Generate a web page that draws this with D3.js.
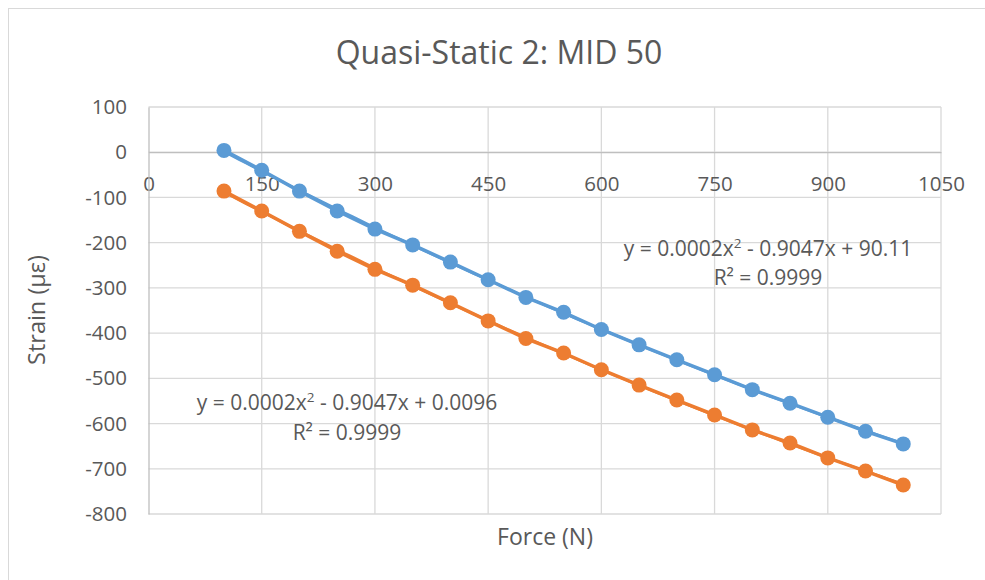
<!DOCTYPE html>
<html>
<head>
<meta charset="utf-8">
<script src="https://cdn.jsdelivr.net/npm/d3@7"></script>
<style>
    body { margin: 0; background: #fff; }
    svg text { font-family: "Open Sans", sans-serif; fill: #595959; }
</style>
</head>
<body>
<div id="chart"></div>
<script>
const forceN = [100, 150, 200, 250, 300, 350, 400, 450, 500, 550, 600, 650, 700, 750, 800, 850, 900, 950, 1000];
const strainBlue = [4, -40, -86, -130, -170, -205, -243, -282, -321, -354, -392, -426, -459, -492, -525, -555, -586, -617, -645];
const strainOrange = [-86, -130, -175, -219, -259, -294, -333, -373, -412, -444, -481, -515, -548, -581, -614, -643, -676, -705, -736];
const xTicks = [0, 150, 300, 450, 600, 750, 900, 1050];
const yTicks = [100, 0, -100, -200, -300, -400, -500, -600, -700, -800];

const width = 985, height = 580;
const plot = { left: 148.5, right: 941, top: 107, bottom: 514 };

const svg = d3.select('#chart')
    .append('svg')
    .attr('width', width)
    .attr('height', height);

// chart area border
svg.append('rect')
    .attr('x', 8.5).attr('y', 8.5)
    .attr('width', 990).attr('height', 590)
    .attr('fill', '#fff')
    .attr('stroke', '#d9d9d9');

const x = d3.scaleLinear().domain([0, 1050]).range([plot.left, plot.right]);
const y = d3.scaleLinear().domain([-800, 100]).range([plot.bottom, plot.top]);

// excel style numbers, plain hyphen for negatives
const fmt = d => String(d);

/* gridlines */
const grid = svg.append('g').attr('class', 'grid');
grid.selectAll('.hgrid')
    .data(yTicks)
    .enter().append('line')
    .attr('x1', plot.left).attr('x2', plot.right)
    .attr('y1', d => y(d)).attr('y2', d => y(d))
    .attr('stroke', '#d9d9d9').attr('stroke-width', 1.3);
grid.selectAll('.vgrid')
    .data(xTicks.slice(1))
    .enter().append('line')
    .attr('x1', d => x(d)).attr('x2', d => x(d))
    .attr('y1', plot.top).attr('y2', plot.bottom)
    .attr('stroke', '#d9d9d9').attr('stroke-width', 1.3);

/* axes crossing at zero */
const xAxis = svg.append('g')
    .attr('transform', `translate(0,${y(0)})`)
    .call(d3.axisBottom(x).tickValues(xTicks).tickSize(0).tickPadding(24).tickFormat(fmt));
xAxis.select('.domain').attr('stroke', '#bfbfbf').attr('stroke-width', 1.3);
xAxis.selectAll('text').style('font-size', '20.5px');

const yAxis = svg.append('g')
    .attr('transform', `translate(${x(0)},0)`)
    .call(d3.axisLeft(y).tickValues(yTicks).tickSize(0).tickPadding(0).tickFormat(fmt));
yAxis.select('.domain').attr('stroke', '#bfbfbf').attr('stroke-width', 1.3);
yAxis.selectAll('text')
    .attr('x', 127 - x(0))
    .style('font-size', '20.5px');

/* quadratic least squares for the trendlines */
function polyFit(xs, ys) {
    const S = [0, 0, 0, 0, 0], T = [0, 0, 0];
    xs.forEach((xv, i) => {
        for (let k = 0; k < 5; k++) S[k] += Math.pow(xv, k);
        for (let k = 0; k < 3; k++) T[k] += ys[i] * Math.pow(xv, k);
    });
    const A = [[S[0], S[1], S[2], T[0]], [S[1], S[2], S[3], T[1]], [S[2], S[3], S[4], T[2]]];
    for (let i = 0; i < 3; i++) {
        for (let j = i + 1; j < 3; j++) {
            const f = A[j][i] / A[i][i];
            for (let k = i; k < 4; k++) A[j][k] -= f * A[i][k];
        }
    }
    const c = [0, 0, 0];
    for (let i = 2; i >= 0; i--) {
        let s = A[i][3];
        for (let k = i + 1; k < 3; k++) s -= A[i][k] * c[k];
        c[i] = s / A[i][i];
    }
    return xv => c[0] + c[1] * xv + c[2] * xv * xv;
}

const series = [
    { values: strainBlue, color: '#5b9bd5' },
    { values: strainOrange, color: '#ed7d31' }
];

const line = d3.line().x(d => x(d[0])).y(d => y(d[1]));

series.forEach(s => {
    const pts = forceN.map((f, i) => [f, s.values[i]]);
    const fit = polyFit(forceN, s.values);
    const g = svg.append('g');
    g.append('path')
        .attr('d', line(pts))
        .attr('fill', 'none')
        .attr('stroke', s.color)
        .attr('stroke-width', 3.5);
    g.append('path')
        .attr('d', line(d3.range(100, 1001, 10).map(f => [f, fit(f)])))
        .attr('fill', 'none')
        .attr('stroke', s.color)
        .attr('stroke-width', 2.5);
    g.selectAll('circle')
        .data(pts)
        .enter().append('circle')
        .attr('cx', d => x(d[0]))
        .attr('cy', d => y(d[1]))
        .attr('r', 7.5)
        .attr('fill', s.color);
});

/* trendline labels */
function equation(cx, cy, constant) {
    const t = svg.append('text')
        .attr('x', cx).attr('y', cy)
        .attr('text-anchor', 'middle')
        .style('font-size', '21px');
    t.append('tspan').text('y = 0.0002x');
    t.append('tspan').attr('dy', -8).style('font-size', '13.5px').text('2');
    t.append('tspan').attr('dy', 8).text(' - 0.9047x + ' + constant);
}
equation(768, 256, '90.11');
svg.append('text').attr('x', 768).attr('y', 285).attr('text-anchor', 'middle')
    .style('font-size', '21px').text('R² = 0.9999');
equation(347, 410, '0.0096');
svg.append('text').attr('x', 347).attr('y', 440).attr('text-anchor', 'middle')
    .style('font-size', '21px').text('R² = 0.9999');

/* titles */
svg.append('text')
    .attr('x', 499).attr('y', 64)
    .attr('text-anchor', 'middle')
    .style('font-size', '32px')
    .text('Quasi-Static 2: MID 50');

svg.append('text')
    .attr('x', 545).attr('y', 545)
    .attr('text-anchor', 'middle')
    .style('font-size', '23px')
    .text('Force (N)');

svg.append('text')
    .attr('transform', 'translate(45,310) rotate(-90)')
    .attr('text-anchor', 'middle')
    .style('font-size', '23.5px')
    .text('Strain (µε)');
</script>
</body>
</html>
